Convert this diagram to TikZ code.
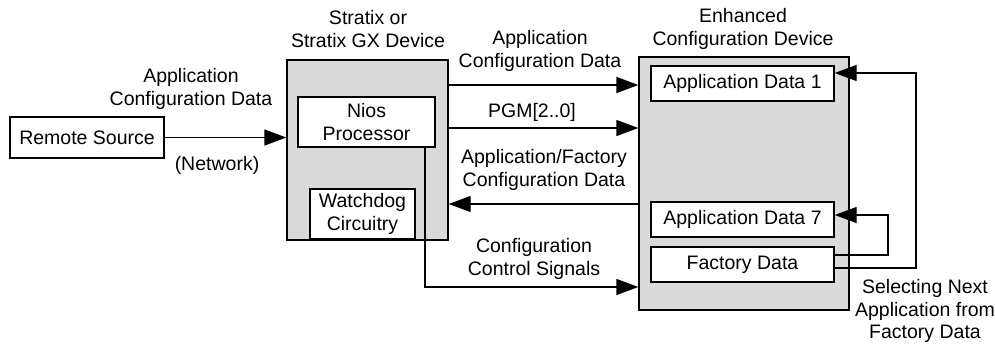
\documentclass[tikz,border=0pt]{standalone}
\usepackage{fontspec}
\setmainfont{Liberation Sans}
\usetikzlibrary{arrows.meta}
\definecolor{boxgray}{RGB}{218,218,218}
\begin{document}
\begin{tikzpicture}[x=1pt,y=-1pt,
  font=\fontsize{19.5}{22.5}\selectfont,
  line width=1.4pt,
  blk/.style={draw, fill=white, inner sep=0pt, align=center},
  dev/.style={draw, fill=boxgray, inner sep=0pt},
  arr/.style={-{Triangle[length=22pt,width=16pt]}},
  lbl/.style={align=center, inner sep=0pt}]
\useasboundingbox (0,0) rectangle (995,346);
% devices
\node[dev, minimum width=161pt, minimum height=180pt] (stratix) at (367.5,150) {};
\node[dev, minimum width=210pt, minimum height=253pt] (enh) at (744,183.5) {};
% blocks
\node[blk, minimum width=154pt, minimum height=41pt] (remote) at (87,137.5) {Remote Source};
\node[blk, minimum width=137pt, minimum height=50pt] (nios) at (366.5,122) {Nios\\Processor};
\node[blk, minimum width=105pt, minimum height=50pt] (wd) at (362.5,214) {Watchdog\\Circuitry};
\node[blk, minimum width=183pt, minimum height=35pt] (app1) at (742.5,83.5) {Application Data 1};
\node[blk, minimum width=183pt, minimum height=35pt] (app7) at (742.5,219.5) {Application Data 7};
\node[blk, minimum width=183pt, minimum height=35pt] (fact) at (742.5,264.5) {Factory Data};
% labels
\node[lbl] (l1) at (191,89) {Application\\Configuration Data};
\node[lbl] (l2) at (217,165) {(Network)};
\node[lbl] (l3) at (368,29) {Stratix or\\Stratix GX Device};
\node[lbl] (l4) at (540,51) {Application\\Configuration Data};
\node[lbl] (l5) at (532,112) {PGM[2..0]};
\node[lbl] (l6) at (544,170) {Application/Factory\\Configuration Data};
\node[lbl] (l7) at (534,259) {Configuration\\Control Signals};
\node[lbl] (l8) at (743,29) {Enhanced\\Configuration Device};
\node[lbl] (l9) at (925,311) {Selecting Next\\Application from\\Factory Data};
% connectors
\draw[arr] (remote.east) -- (remote.east -| stratix.west);
\draw[arr] (stratix.east |- 0,85) -- (enh.west |- 0,85);
\draw[arr] (stratix.east |- 0,128) -- (enh.west |- 0,128);
\draw[arr] (enh.west |- 0,204) -- (stratix.east |- 0,204);
\coordinate (c1) at (425,287);
\draw[arr] (nios.south -| c1) -- (c1) -- (enh.west |- c1);
\coordinate (c2) at (916,268);
\coordinate (c3) at (916,73);
\draw[arr] (fact.east |- c2) -- (c2) -- (c3) -- (app1.east |- c3);
\coordinate (c4) at (888,255);
\coordinate (c5) at (888,215);
\draw[arr] (fact.east |- c4) -- (c4) -- (c5) -- (app7.east |- c5);
\end{tikzpicture}
\end{document}
